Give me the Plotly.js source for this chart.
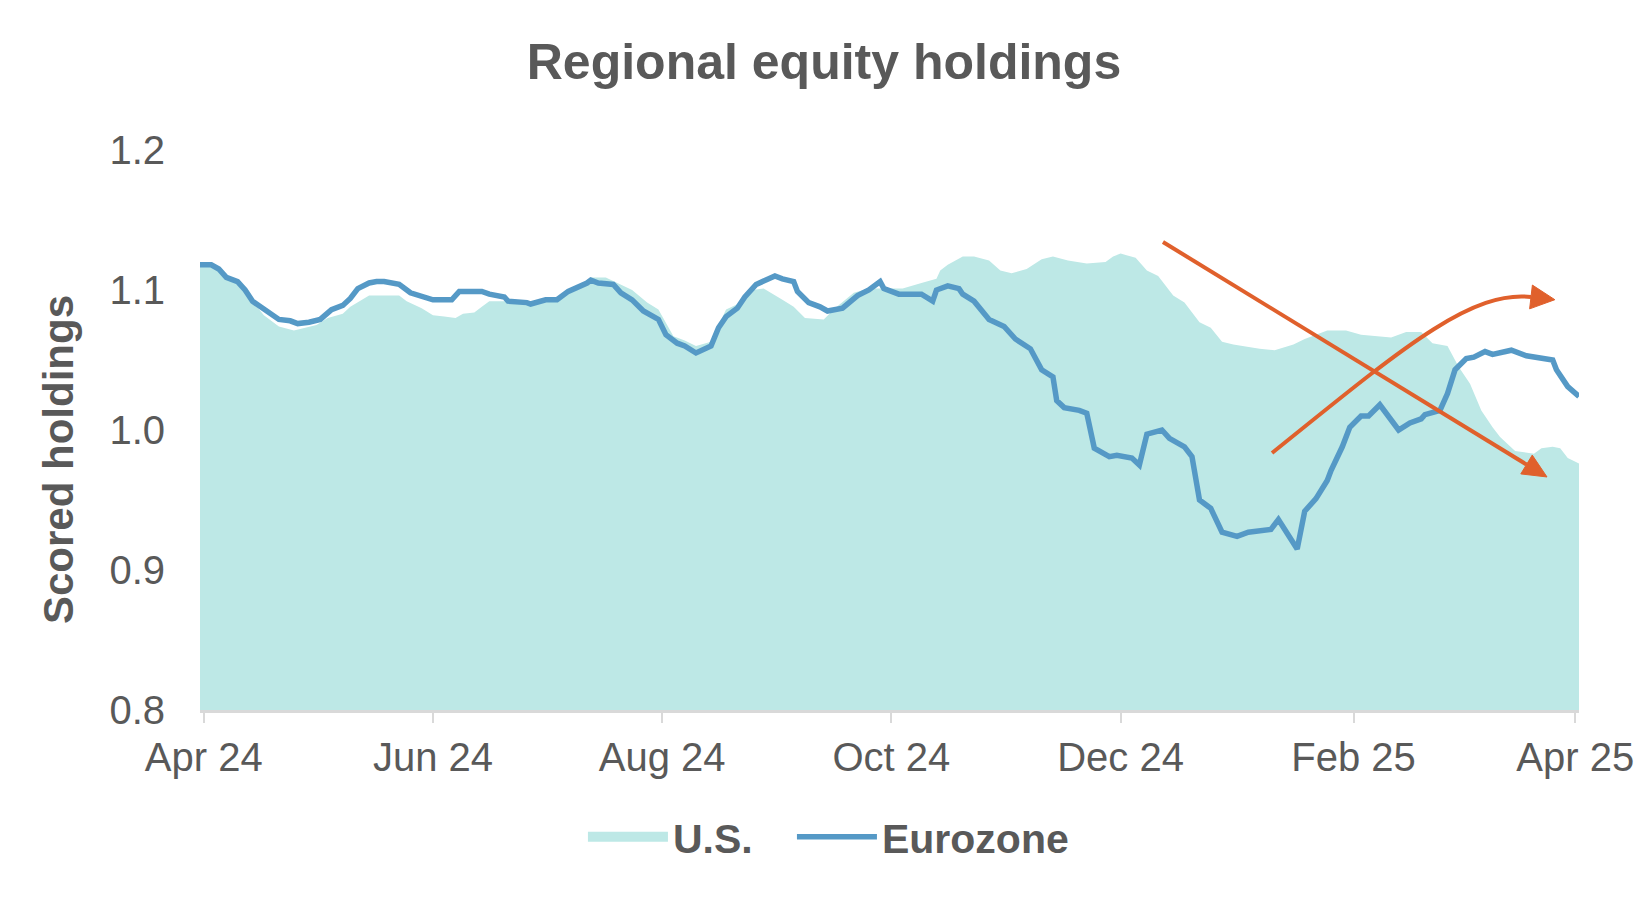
<!DOCTYPE html>
<html>
<head>
<meta charset="utf-8">
<script src="https://cdn.plot.ly/plotly-3.0.1.min.js"></script>
<style>
  html, body { margin: 0; padding: 0; background: #fff; }
  #chart { width: 1650px; height: 904px; }
</style>
</head>
<body>
<div id="chart"></div>
<script>
// U.S. scored holdings (area)
var usDates = ['2024-03-31','2024-04-03','2024-04-05','2024-04-07','2024-04-10','2024-04-12','2024-04-14','2024-04-17','2024-04-21','2024-04-25',
  '2024-04-28','2024-05-01','2024-05-04','2024-05-08','2024-05-10','2024-05-13','2024-05-15','2024-05-23','2024-05-25','2024-05-29',
  '2024-06-01','2024-06-04','2024-06-07','2024-06-09','2024-06-12','2024-06-14','2024-06-16','2024-06-20','2024-06-21','2024-06-26',
  '2024-07-01','2024-07-04','2024-07-07','2024-07-10','2024-07-13','2024-07-17','2024-07-20','2024-07-24','2024-07-28','2024-07-31',
  '2024-08-04','2024-08-07','2024-08-10','2024-08-14','2024-08-18','2024-08-22','2024-08-25','2024-08-28','2024-09-02','2024-09-05',
  '2024-09-08','2024-09-13','2024-09-16','2024-09-21','2024-09-25','2024-09-30','2024-10-04','2024-10-09','2024-10-13','2024-10-14',
  '2024-10-16','2024-10-20','2024-10-23','2024-10-27','2024-10-30','2024-11-02','2024-11-06','2024-11-10','2024-11-13','2024-11-17',
  '2024-11-20','2024-11-22','2024-11-27','2024-11-29','2024-12-01','2024-12-05','2024-12-08','2024-12-11','2024-12-15','2024-12-18',
  '2024-12-22','2024-12-25','2024-12-28','2024-12-31','2025-01-07','2025-01-11','2025-01-16','2025-01-19','2025-01-25','2025-01-30',
  '2025-02-03','2025-02-11','2025-02-15','2025-02-19','2025-02-22','2025-02-26','2025-03-01','2025-03-04','2025-03-07','2025-03-10',
  '2025-03-12','2025-03-16','2025-03-21','2025-03-23','2025-03-26','2025-03-28','2025-03-30','2025-04-02'];
var usValues = [1.120,1.118,1.115,1.109,1.106,1.100,1.092,1.082,1.074,1.071,
  1.073,1.075,1.080,1.083,1.088,1.093,1.096,1.096,1.092,1.087,
  1.082,1.081,1.080,1.083,1.084,1.088,1.092,1.092,1.091,1.091,
  1.093,1.093,1.099,1.103,1.109,1.109,1.105,1.100,1.091,1.086,
  1.067,1.064,1.060,1.063,1.086,1.091,1.100,1.101,1.093,1.088,
  1.080,1.079,1.087,1.098,1.101,1.101,1.101,1.105,1.108,1.114,
  1.118,1.124,1.124,1.121,1.114,1.112,1.115,1.122,1.124,1.121,
  1.120,1.119,1.120,1.124,1.126,1.123,1.114,1.110,1.096,1.091,
  1.077,1.073,1.063,1.061,1.058,1.057,1.061,1.065,1.071,1.071,
  1.068,1.066,1.070,1.070,1.062,1.060,1.045,1.033,1.014,1.002,
  0.995,0.985,0.983,0.987,0.988,0.987,0.980,0.976];

// Eurozone scored holdings (line)
var euroDates = ['2024-03-31','2024-04-03','2024-04-05','2024-04-07','2024-04-10','2024-04-12','2024-04-14','2024-04-17','2024-04-21','2024-04-24',
  '2024-04-26','2024-04-29','2024-05-02','2024-05-05','2024-05-08','2024-05-10','2024-05-12','2024-05-15','2024-05-17','2024-05-19',
  '2024-05-23','2024-05-26','2024-05-29','2024-06-01','2024-06-06','2024-06-08','2024-06-14','2024-06-16','2024-06-20','2024-06-21',
  '2024-06-26','2024-06-27','2024-07-01','2024-07-04','2024-07-07','2024-07-10','2024-07-12','2024-07-13','2024-07-15','2024-07-19',
  '2024-07-21','2024-07-24','2024-07-27','2024-07-31','2024-08-02','2024-08-05','2024-08-07','2024-08-10','2024-08-14','2024-08-16',
  '2024-08-18','2024-08-21','2024-08-23','2024-08-26','2024-08-29','2024-08-31','2024-09-02','2024-09-05','2024-09-06','2024-09-09',
  '2024-09-12','2024-09-14','2024-09-18','2024-09-22','2024-09-25','2024-09-28','2024-09-29','2024-10-03','2024-10-09','2024-10-12',
  '2024-10-13','2024-10-16','2024-10-19','2024-10-20','2024-10-23','2024-10-27','2024-10-31','2024-11-03','2024-11-07','2024-11-10',
  '2024-11-13','2024-11-14','2024-11-16','2024-11-20','2024-11-22','2024-11-23','2024-11-24','2024-11-28','2024-11-30','2024-12-04',
  '2024-12-06','2024-12-08','2024-12-12','2024-12-14','2024-12-18','2024-12-20','2024-12-21','2024-12-22','2024-12-25','2024-12-26',
  '2024-12-28','2025-01-01','2025-01-04','2025-01-10','2025-01-12','2025-01-17','2025-01-19','2025-01-22','2025-01-25','2025-01-26',
  '2025-01-29','2025-01-31','2025-02-03','2025-02-05','2025-02-08','2025-02-13','2025-02-16','2025-02-19','2025-02-20','2025-02-24',
  '2025-02-26','2025-02-28','2025-03-03','2025-03-05','2025-03-08','2025-03-10','2025-03-15','2025-03-19','2025-03-23','2025-03-26',
  '2025-03-27','2025-03-30','2025-04-02'];
var euroValues = [1.118,1.118,1.115,1.109,1.106,1.100,1.092,1.086,1.079,1.078,
  1.076,1.077,1.079,1.086,1.089,1.094,1.101,1.105,1.106,1.106,
  1.104,1.098,1.096,1.093,1.093,1.099,1.099,1.097,1.095,1.092,
  1.091,1.090,1.093,1.093,1.099,1.102,1.105,1.107,1.105,1.104,
  1.098,1.093,1.085,1.079,1.068,1.062,1.060,1.055,1.060,1.073,
  1.081,1.087,1.095,1.104,1.107,1.110,1.108,1.106,1.099,1.091,
  1.088,1.085,1.087,1.096,1.100,1.106,1.101,1.097,1.097,1.092,
  1.100,1.103,1.101,1.097,1.092,1.079,1.074,1.065,1.058,1.043,
  1.038,1.021,1.016,1.014,1.012,0.998,0.987,0.981,0.982,0.980,
  0.975,0.997,1.000,0.994,0.988,0.981,0.962,0.950,0.944,0.938,
  0.927,0.924,0.927,0.929,0.936,0.915,0.942,0.951,0.964,0.971,
  0.988,1.002,1.010,1.010,1.018,1.000,1.005,1.008,1.011,1.014,
  1.026,1.043,1.051,1.052,1.056,1.054,1.057,1.053,1.051,1.050,
  1.043,1.031,1.024];

var tickDates = ['2024-04-01','2024-06-01','2024-08-01','2024-10-01','2024-12-01','2025-02-01','2025-04-01'];
var tickLabels = ['Apr 24','Jun 24','Aug 24','Oct 24','Dec 24','Feb 25','Apr 25'];
var yTicks = [0.8, 0.9, 1.0, 1.1, 1.2];

var FONT = 'Liberation Sans, Arial, sans-serif';
var GREY = '#595959';
var ORANGE = '#E0602C';

var traces = [
  {
    x: usDates, y: usValues, name: 'U.S.', type: 'scatter', mode: 'lines',
    fill: 'tozeroy', fillcolor: '#BDE8E6', line: {width: 0, color: '#BDE8E6'},
    showlegend: false, hoverinfo: 'skip'
  },
  {
    // legend swatch for the area
    x: [null], y: [null], name: 'U.S.', type: 'scatter', mode: 'lines',
    line: {width: 30, color: '#BDE8E6'}, legendwidth: 114
  },
  {
    x: euroDates, y: euroValues, name: 'Eurozone', type: 'scatter', mode: 'lines',
    line: {width: 5.5, color: '#5599C6'}
  }
];

var layout = {
  width: 1650, height: 904,
  margin: {l: 200, r: 71, t: 150, b: 194},
  paper_bgcolor: '#fff', plot_bgcolor: '#fff',
  font: {family: FONT, color: GREY, size: 40},
  title: {
    text: 'Regional equity holdings',
    font: {family: FONT, size: 50, color: GREY, weight: 'bold'},
    x: 0.4994, xref: 'container', xanchor: 'center',
    y: 1 - 61 / 904, yref: 'container', yanchor: 'middle'
  },
  xaxis: {
    type: 'date',
    range: ['2024-03-31', '2025-04-02'],
    tickvals: tickDates, ticktext: tickLabels,
    ticks: 'outside', ticklen: 10, tickwidth: 2, tickcolor: '#D9D9D9',
    showline: true, linecolor: '#D9D9D9', linewidth: 3,
    showgrid: false, zeroline: false,
    tickfont: {family: FONT, size: 40, color: GREY}
  },
  yaxis: {
    range: [0.8, 1.2],
    tickvals: yTicks, tickformat: '.1f',
    showgrid: false, zeroline: false, showline: false, ticks: '',
    ticklabelstandoff: 34,
    tickfont: {family: FONT, size: 40, color: GREY}
  },
  annotations: [
    {
      text: 'Scored holdings', textangle: -90, showarrow: false,
      xref: 'paper', x: 0, xshift: -142, xanchor: 'center',
      yref: 'paper', y: 0.4464, yanchor: 'middle',
      font: {family: FONT, size: 42, color: GREY, weight: 'bold'}
    }
  ],
  legend: {
    orientation: 'h',
    xref: 'container', x: 0.3533, xanchor: 'left',
    yref: 'container', y: 1 - 837 / 904, yanchor: 'middle',
    itemwidth: 80,
    font: {family: FONT, size: 41, color: GREY, weight: 'bold'}
  },
  shapes: [
    // falling arrow
    {type: 'line', xref: 'paper', yref: 'paper', x0: 0.6983, y0: 0.8357, x1: 0.9619, y1: 0.4384,
     line: {color: ORANGE, width: 4}},
    {type: 'path', xref: 'paper', yref: 'paper',
     path: 'M0.9768,0.4161 L0.9578,0.4216 L0.9661,0.4552 Z',
     fillcolor: ORANGE, line: {color: ORANGE, width: 1}},
    // rising curved arrow
    {type: 'path', xref: 'paper', yref: 'paper',
     path: 'M0.7774,0.4589 C0.8702,0.6429 0.9210,0.75 0.9652,0.7375',
     line: {color: ORANGE, width: 4}},
    {type: 'path', xref: 'paper', yref: 'paper',
     path: 'M0.9825,0.7327 L0.9642,0.7163 L0.9662,0.7588 Z',
     fillcolor: ORANGE, line: {color: ORANGE, width: 1}}
  ]
};

Plotly.newPlot('chart', traces, layout, {displayModeBar: false, staticPlot: true});
</script>
</body>
</html>
